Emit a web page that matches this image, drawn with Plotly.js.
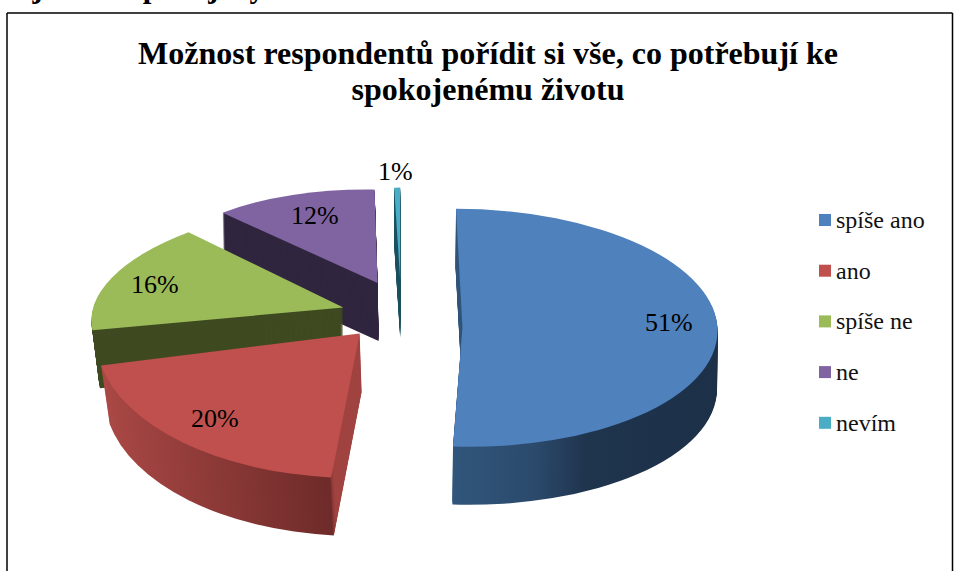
<!DOCTYPE html>
<html>
<head>
<meta charset="utf-8">
<script src="https://cdn.plot.ly/plotly-3.0.1.min.js"></script>
<style>html,body{margin:0;padding:0;background:#fff;overflow:hidden}</style>
</head>
<body>
<div id="chart" style="width:954px;height:571px"></div>
<script>
// data
const categories = ['spíše ano', 'ano', 'spíše ne', 'ne', 'nevím'];
const percents = [51, 20, 16, 12, 1];
const titleLines = ['Možnost respondentů pořídit si vše, co potřebují ke', 'spokojenému životu'];
const captionText = 'ojeno se spokojeným životem.';

// style
const topColors = ['#4f81bd', '#c0504d', '#9bbb59', '#8064a2', '#4bacc6'];
const wallColors = ['#1f344d', '#7d3230', '#3f4a21', '#30263f', '#1d5361'];
const serif = '"Liberation Serif", "Times New Roman", serif';
const W = 954, H = 571;
const PULL = 0.225, LAYERS = 58, DEPTH = 58;
const centre = [400, 314], spread = [260, 118];
// per-slice perspective of the tilted pie: [xx, xy, yx, yy] pixels per unit of radius
const warp = [[255, 6.5, 0, 119], [264, -12, 4, 144.5], [249, -39, 3.5, 106], [223, -11, 9, 93], [95, 0, 0, 92]];
const nudge = [[4, 13], [-3, -1], [0, 0], [2.5, -7], [2, -8]];
// how the wall of a slice narrows and leans towards its lower edge
const wallShrink = [0, 0.025, 0.03, 0, 0];
const wallLean = [-0.5, 2, 0, 1, 0];
const labelPos = [[669, 322], [215, 418], [155, 284], [315, 216], [395, 171]];

const traces = [];
for (let k = LAYERS; k >= 0; k--) {
  traces.push({
    type: 'pie', labels: categories, values: percents, sort: false, direction: 'clockwise', rotation: 0,
    pull: percents.map(() => PULL), textinfo: 'none', hoverinfo: 'none',
    showlegend: k === 0,
    marker: {colors: k === 0 ? topColors : wallColors, line: {width: 0}},
    domain: {x: [0, 1], y: [0, 1]}
  });
}

const annotations = percents.map((v, i) => ({
  text: v + '%', xref: 'paper', yref: 'paper', x: labelPos[i][0] / W, y: 1 - labelPos[i][1] / H,
  xanchor: 'center', yanchor: 'middle', showarrow: false, font: {family: serif, size: 26, color: '#000'}
}));
annotations.push({
  text: '<b>' + captionText + '</b>', xref: 'paper', yref: 'paper', x: 15 / W, y: 1 + 14 / H,
  xanchor: 'left', yanchor: 'middle', showarrow: false, font: {family: serif, size: 31, color: '#000'}
});

const layout = {
  width: W, height: H, margin: {l: 0, r: 0, t: 0, b: 0}, paper_bgcolor: '#fff',
  title: {
    text: '<b>' + titleLines.join('<br>') + '</b>', x: 488 / W, xanchor: 'center', y: 1 - 64 / H, yanchor: 'top',
    font: {family: serif, size: 32, color: '#000'}
  },
  legend: {x: 805 / W, xanchor: 'left', y: 1 - 205 / H, yanchor: 'top', font: {family: serif, size: 24, color: '#111'},
    bgcolor: 'rgba(0,0,0,0)', traceorder: 'normal'},
  annotations: annotations,
  shapes: [
    {type: 'line', xref: 'paper', yref: 'paper', x0: 7 / W, x1: 7 / W, y0: 1 - 13 / H, y1: 0, line: {color: '#000', width: 1.5}},
    {type: 'line', xref: 'paper', yref: 'paper', x0: 7 / W, x1: 952.5 / W, y0: 1 - 13 / H, y1: 1 - 13 / H, line: {color: '#000', width: 1.5}},
    {type: 'line', xref: 'paper', yref: 'paper', x0: 952.5 / W, x1: 952.5 / W, y0: 1 - 13 / H, y1: 0, line: {color: '#000', width: 1.5}}
  ]
};

function addGradient(svg, id, stops) {
  const ns = 'http://www.w3.org/2000/svg';
  const g = document.createElementNS(ns, 'linearGradient');
  g.setAttribute('id', id);
  g.setAttribute('x1', '0'); g.setAttribute('x2', '1'); g.setAttribute('y1', '0'); g.setAttribute('y2', '0');
  stops.forEach(s => {
    const st = document.createElementNS(ns, 'stop');
    st.setAttribute('offset', s[0]); st.setAttribute('stop-color', s[1]);
    g.appendChild(st);
  });
  svg.querySelector('defs').appendChild(g);
}

Plotly.newPlot('chart', traces, layout, {displayModeBar: false}).then(() => {
  const root = document.getElementById('chart');
  const svg = root.querySelector('svg.main-svg');
  addGradient(svg, 'wallBlue', [[0, '#31567b'], [0.3, '#2b4a6c'], [0.5, '#1f344d'], [1, '#1c3048']]);
  addGradient(svg, 'wallRed', [[0, '#aa4845'], [0.93, '#6e2b29'], [0.94, '#a04240'], [1, '#a04240']]);
  const wallFill = ['url(#wallBlue)', 'url(#wallRed)', null, null, null];

  const r0 = (H / 2) / (1 + PULL), c0 = [W / 2, H / 2];
  const total = percents.reduce((a, b) => a + b, 0);
  let acc = 0;
  const mids = percents.map(v => { const m = (acc + v / 2) / total * 2 * Math.PI; acc += v; return m; });

  root.querySelectorAll('.pielayer .trace').forEach((layer, idx) => {
    const frac = (LAYERS - idx) / LAYERS;
    const drop = DEPTH * frac;
    layer.querySelectorAll('.slice').forEach((slice, i) => {
      const path = slice.querySelector('path.surface');
      const dx = Math.sin(mids[i]), dy = -Math.cos(mids[i]);
      const tip0 = [c0[0] + PULL * r0 * dx, c0[1] + PULL * r0 * dy];
      const tip = [centre[0] + PULL * spread[0] * dx + nudge[i][0] + wallLean[i] * frac,
                   centre[1] + PULL * spread[1] * dy + nudge[i][1] + drop];
      const s = 1 - wallShrink[i] * frac;
      const a = warp[i][0] * s / r0, b = warp[i][1] * s / r0, c = warp[i][2] / r0, d = warp[i][3] / r0;
      const e = tip[0] - a * tip0[0] - b * tip0[1];
      const f = tip[1] - c * tip0[0] - d * tip0[1];
      path.setAttribute('transform', `matrix(${a} ${c} ${b} ${d} ${e} ${f})`);
      if (drop > 0 && wallFill[i]) path.style.fill = wallFill[i];
    });
  });

  // title line spacing
  const lines = root.querySelectorAll('.gtitle tspan.line');
  if (lines.length > 1) lines[1].setAttribute('dy', '1.125em');

  // legend spacing
  const sb = root.querySelector('.legend .scrollbox');
  sb.removeAttribute('clip-path');
  sb.style.clipPath = 'none';
  root.querySelectorAll('.legend .traces').forEach((t, i) => {
    t.setAttribute('transform', `translate(0, ${15 + i * 50.7})`);
    const tx = t.querySelector('text.legendtext');
    tx.setAttribute('x', 31);
    tx.setAttribute('transform', 'translate(0,-1.5)');
  });
});
</script>
</body>
</html>
